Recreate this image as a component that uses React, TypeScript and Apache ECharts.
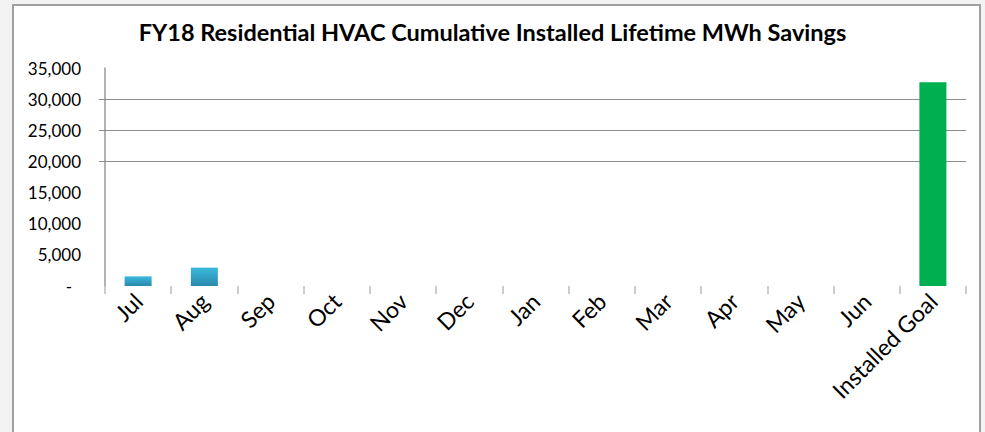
import React, { useEffect, useRef } from "react";
import * as echarts from "echarts";

const categories = ["Jul", "Aug", "Sep", "Oct", "Nov", "Dec", "Jan", "Feb", "Mar", "Apr", "May", "Jun", "Installed Goal"];
const monthlySavings = [1550, 2950, 0, 0, 0, 0, 0, 0, 0, 0, 0, 0, null];
const goalSavings = [null, null, null, null, null, null, null, null, null, null, null, null, 32700];
const gridValues = [20000, 25000, 30000];
const titleText = "FY18 Residential HVAC Cumulative Installed Lifetime MWh Savings";

export default function App() {
  const ref = useRef<HTMLDivElement>(null);
  useEffect(() => {
    document.body.style.margin = "0";
    const chart = echarts.init(ref.current!, null, { renderer: "svg" });
    chart.setOption({
      animation: false,
      backgroundColor: "#f3f3f3",
      graphic: [
        {
          type: "rect",
          z: -10,
          shape: { x: 13, y: 5, width: 967, height: 440 },
          style: { fill: "#ffffff", stroke: "#a0a0a0", lineWidth: 2 },
          silent: true,
        },
      ],
      title: {
        text: titleText,
        left: "center",
        top: 15,
        textStyle: { fontFamily: "Lato", fontWeight: "bold", fontSize: 23.5, color: "#000000" },
      },
      grid: { left: 105, right: 19, top: 68, bottom: 146, containLabel: false },
      xAxis: {
        type: "category",
        data: categories,
        boundaryGap: true,
        axisLine: { show: false },
        axisTick: { show: true, length: 8, lineStyle: { color: "#bdbdbd", width: 1.5 } },
        axisLabel: {
          rotate: 45,
          interval: 0,
          margin: 11,
          fontFamily: "Lato",
          fontSize: 23,
          color: "#000000",
        },
      },
      yAxis: {
        type: "value",
        min: 0,
        max: 35000,
        interval: 5000,
        axisLine: { show: true, lineStyle: { color: "#999999", width: 1.5 } },
        axisTick: {
          show: true,
          inside: false,
          length: 6,
          customValues: gridValues,
          lineStyle: { color: "#8c8c8c" },
        },
        splitLine: { show: false },
        axisLabel: {
          margin: 24,
          fontFamily: "Lato",
          fontSize: 17,
          color: "#000000",
          formatter: (v: number) => (v === 0 ? "{d|-}" : v.toLocaleString("en-US")),
          rich: { d: { fontFamily: "Lato", fontSize: 17, color: "#000000", padding: [0, 9, 0, 0] } },
        },
      },
      series: [
        {
          type: "bar",
          name: "Monthly",
          stack: "s",
          barWidth: 27,
          data: monthlySavings,
          itemStyle: {
            color: new echarts.graphic.LinearGradient(0, 0, 0, 1, [
              { offset: 0, color: "#3bb9de" },
              { offset: 1, color: "#2a89ab" },
            ]),
          },
        },
        {
          type: "bar",
          name: "Goal",
          stack: "s",
          barWidth: 27,
          data: goalSavings,
          itemStyle: { color: "#00b050" },
          markLine: {
            silent: true,
            symbol: "none",
            label: { show: false },
            z: 1,
            lineStyle: { color: "#8c8c8c", type: "solid", width: 1 },
            data: gridValues.map((v) => ({ yAxis: v })),
          },
        },
      ],
    });
    return () => chart.dispose();
  }, []);
  return <div ref={ref} style={{ width: 985, height: 432 }} />;
}
